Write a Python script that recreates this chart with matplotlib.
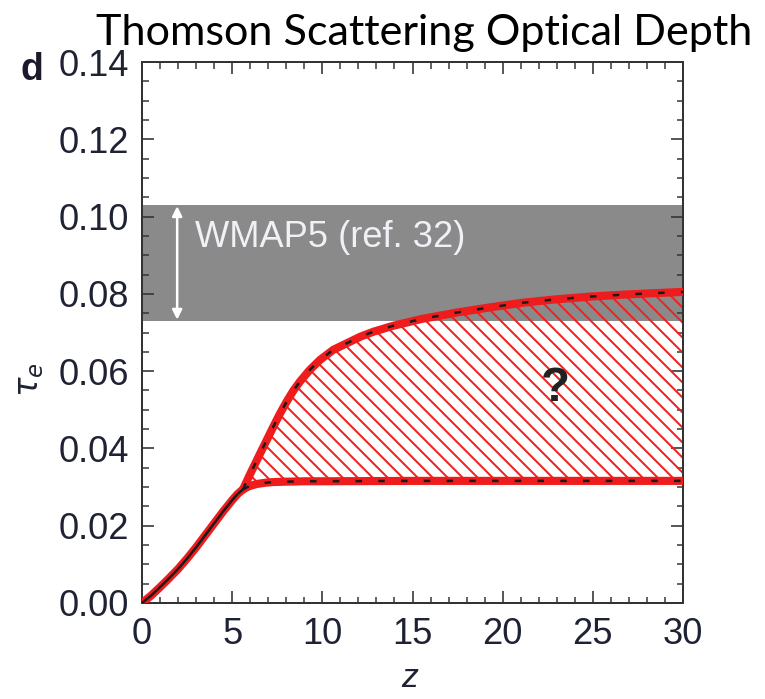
import matplotlib
matplotlib.use("Agg")
import matplotlib.pyplot as plt
import numpy as np

# ---- data ----
z_common = [0, 0.5, 1, 1.5, 2, 2.5, 3, 3.5, 4, 4.5, 5, 5.3, 5.6]
tau_common = [0, 0.0019, 0.0041, 0.0064, 0.0088, 0.0115, 0.0144, 0.0175, 0.0206,
              0.0237, 0.0266, 0.0282, 0.0294]

z_upper = [5.6, 6.0, 6.5, 6.9, 7.28, 7.65, 8.02, 8.4, 8.76, 9.3, 9.87, 10.6, 11.35,
           12.1, 12.83, 13.9, 15.5, 17.5, 19.3, 21.1, 23.0, 24.9, 26.7, 28.5, 30]
tau_upper = [0.0294, 0.0334, 0.0382, 0.0420, 0.0456, 0.0490, 0.0521, 0.0550, 0.0573,
             0.0603, 0.0629, 0.0655, 0.0672, 0.0689, 0.0702, 0.0717, 0.0735, 0.0752,
             0.0765, 0.0777, 0.0786, 0.0793, 0.0798, 0.0802, 0.0805]

z_lower = [5.6, 5.8, 6.0, 6.36, 6.8, 7.28, 8.0, 9.0, 10.0, 15.0, 20.0, 25.0, 30.0]
tau_lower = [0.0294, 0.0299, 0.0303, 0.0308, 0.0311, 0.0313, 0.0314, 0.0315, 0.0315,
             0.0316, 0.0316, 0.0316, 0.0316]

wmap_lo, wmap_hi = 0.073, 0.103
x_ticks = [0, 5, 10, 15, 20, 25, 30]
y_ticks = [0.00, 0.02, 0.04, 0.06, 0.08, 0.10, 0.12, 0.14]

DPI = 90
W, H = 765, 699
plt.rcParams['hatch.linewidth'] = 1.6
plt.rcParams['font.family'] = ['Liberation Sans', 'DejaVu Sans']

fig = plt.figure(figsize=(W / DPI, H / DPI), dpi=DPI)
ax = fig.add_axes([142 / W, 1 - 603 / H, (683 - 142) / W, (603 - 62) / H])

ax.axhspan(wmap_lo, wmap_hi, color='#8a8a8a', lw=0, zorder=0)

# hatched region between branches
ax.fill(np.r_[z_upper, z_lower[::-1]], np.r_[tau_upper, tau_lower[::-1]],
        facecolor='none', edgecolor='#ee2222', hatch='\\\\', lw=0, zorder=2)

red = '#ee1c1c'
for zz, tt in [(z_common, tau_common), (z_upper, tau_upper), (z_lower, tau_lower)]:
    ax.plot(zz, tt, color=red, lw=6.5, solid_capstyle='round',
            solid_joinstyle='round', zorder=3)
ax.plot(z_common, tau_common, color='#1a1a1a', lw=2.0, zorder=4,
        solid_capstyle='round', solid_joinstyle='round')
for zz, tt in [(z_upper, tau_upper), (z_lower, tau_lower)]:
    ax.plot(zz, tt, color='#1a1a1a', lw=2.0, dashes=(2.6, 6.5), zorder=4)

# WMAP arrow and label
ax.annotate('', xy=(1.95, wmap_hi - 0.0003), xytext=(1.95, wmap_lo + 0.0003),
            arrowprops=dict(arrowstyle='<|-|>', color='white', lw=2.0,
                            mutation_scale=16, shrinkA=0, shrinkB=0), zorder=5)
ax.text(2.95, 0.0945, 'WMAP5 (ref. 32)', color='#f0f0f6', fontsize=29,
        va='center', ha='left', zorder=5)
ax.text(22.9, 0.0555, '?', color='#222222', fontsize=38, fontweight='bold',
        ha='center', va='center', zorder=5)

ax.set_xlim(0, 30)
ax.set_ylim(0, 0.14)
ax.set_xticks(x_ticks)
ax.set_xticklabels([str(v) for v in x_ticks])
ax.set_yticks(y_ticks)
ax.set_yticklabels([f'{v:.2f}' for v in y_ticks])
ax.xaxis.set_minor_locator(matplotlib.ticker.MultipleLocator(1))
ax.yaxis.set_minor_locator(matplotlib.ticker.MultipleLocator(0.005))
ax.tick_params(which='both', direction='in', top=True, right=True, color='#333333')
ax.tick_params(which='major', length=9.5, width=1.3, labelsize=29, labelcolor='#1e2233')
ax.tick_params(which='minor', length=5.2, width=1.2)
ax.tick_params(axis='y', which='major', pad=10)
ax.tick_params(axis='x', which='major', pad=11)
for s in ax.spines.values():
    s.set_color('#333333')
    s.set_linewidth(1.6)

fig.text(410 / W, 1 - 687 / H, 'z', fontsize=27, fontstyle='italic',
         color='#1e2233', ha='center', va='baseline')
fig.text(30 / W, 1 - 380 / H, r'$\tau_e$', fontsize=26, rotation=90,
         color='#1e2233', ha='center', va='center')
fig.text(20 / W, 1 - 80 / H, 'd', fontsize=30, fontweight='bold',
         color='#1a1a2a', ha='left', va='baseline')
fig.text(424 / W, 1 - 45 / H, 'Thomson Scattering Optical Depth', fontsize=34.5,
         family=['Lato', 'DejaVu Sans'], color='black', ha='center', va='baseline')

fig.savefig('out.png', dpi=DPI)
